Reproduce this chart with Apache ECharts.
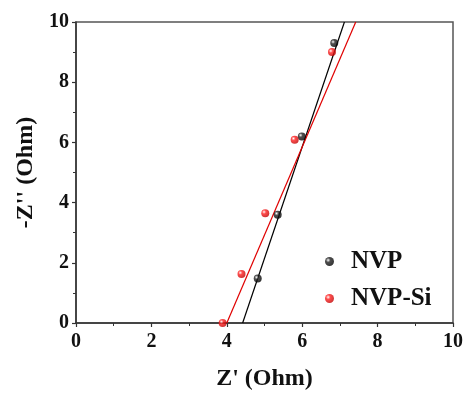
<!DOCTYPE html>
<html><head><meta charset="utf-8">
<script src="https://cdn.jsdelivr.net/npm/echarts@6/dist/echarts.min.js"></script>
<style>html,body{margin:0;padding:0;background:#fff}#c{width:464px;height:394px}</style>
</head><body><div id="c"></div>
<script>
var nvpX = [4.82, 5.35, 5.99, 6.85];
var nvpY = [1.48, 3.60, 6.20, 9.30];
var siX = [3.89, 4.39, 5.02, 5.80, 6.79];
var siY = [0.00, 1.63, 3.65, 6.09, 9.00];
var nvpFitX = [4.42, 7.12];
var nvpFitY = [0, 10];
var siFitX = [4.00, 7.42];
var siFitY = [0, 10];
var xTicks = [0, 2, 4, 6, 8, 10];
var yTicks = [0, 2, 4, 6, 8, 10];

function pairs(xs, ys){ return xs.map(function(x,i){ return [x, ys[i]]; }); }
function ball(c, d){
  return new echarts.graphic.RadialGradient(0.35,0.35,0.7,[{offset:0,color:'#ffffff'},{offset:0.35,color:c},{offset:1,color:d}]);
}
var font = '"Liberation Serif","Times New Roman",serif';
var chart = echarts.init(document.getElementById('c'));
var axisCommon = {
  min: 0, max: 10, interval: 2,
  axisLine: {show: true, onZero: false, lineStyle: {color: '#333', width: 1.5}},
  axisTick: {show: true, inside: false, length: 4, lineStyle: {color: '#333', width: 1.2}},
  minorTick: {show: true, splitNumber: 2, length: 3, lineStyle: {color: '#333', width: 1}},
  splitLine: {show: false},
  axisLabel: {color: '#111', fontFamily: font, fontWeight: 'bold', fontSize: 20},
  nameLocation: 'middle',
  nameTextStyle: {color: '#111', fontFamily: font, fontWeight: 'bold', fontSize: 24}
};
chart.setOption({
  animation: false,
  backgroundColor: '#fff',
  grid: {left: 76, right: 11, top: 22, bottom: 71, show: true, borderColor: '#555', borderWidth: 1.5,
    containLabel: false, outerBoundsMode: 'none'},
  xAxis: Object.assign({}, axisCommon, {type: 'value', name: "Z' (Ohm)", nameGap: 44,
    axisLabel: Object.assign({}, axisCommon.axisLabel, {margin: 9,
      formatter: function(v){ return xTicks.indexOf(v) >= 0 ? String(v) : ''; }})}),
  yAxis: Object.assign({}, axisCommon, {type: 'value', name: "-Z'' (Ohm)", nameGap: 37,
    axisLabel: Object.assign({}, axisCommon.axisLabel, {margin: 7,
      formatter: function(v){ return yTicks.indexOf(v) >= 0 ? String(v) : ''; }})}),
  legend: {
    orient: 'vertical', left: 320, top: 244, itemGap: 12, itemWidth: 9, itemHeight: 9,
    icon: 'circle',
    textStyle: {color: '#111', fontFamily: font, fontWeight: 'bold', fontSize: 25, lineHeight: 25, padding: [0,0,0,12]},
    data: ['NVP', 'NVP-Si']
  },
  series: [
    {name: 'NVP-fit', type: 'line', data: pairs(nvpFitX, nvpFitY), showSymbol: false, symbol: 'none',
      lineStyle: {color: '#000', width: 1.2}, z: 2, silent: true},
    {name: 'NVP-Si-fit', type: 'line', data: pairs(siFitX, siFitY), showSymbol: false, symbol: 'none',
      lineStyle: {color: '#e00000', width: 1.2}, z: 2, silent: true},
    {name: 'NVP', type: 'scatter', data: pairs(nvpX, nvpY), symbol: 'circle', symbolSize: 8,
      itemStyle: {color: ball('#222', '#000')}, z: 3},
    {name: 'NVP-Si', type: 'scatter', data: pairs(siX, siY), symbol: 'circle', symbolSize: 8,
      itemStyle: {color: ball('#ff2020', '#c00000')}, z: 3}
  ]
});
</script></body></html>
